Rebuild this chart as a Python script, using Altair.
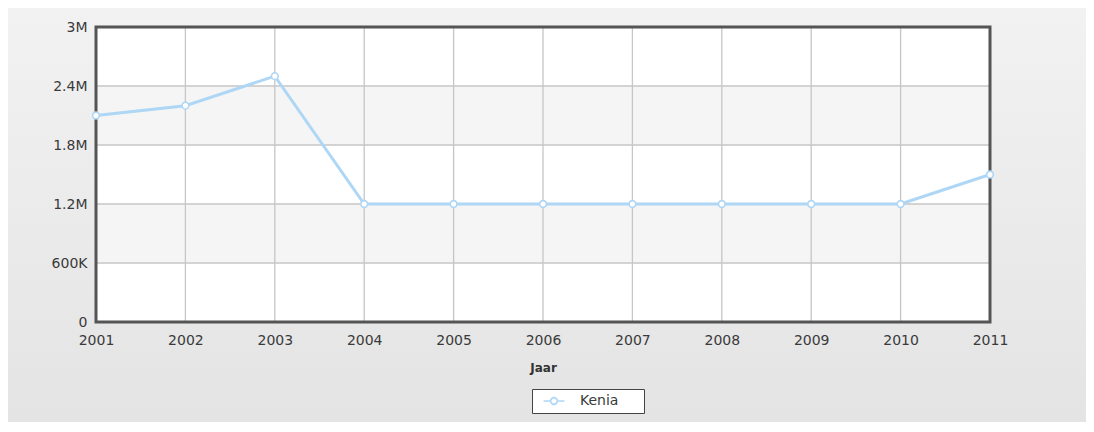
import altair as alt
import pandas as pd

years = [2001, 2002, 2003, 2004, 2005, 2006, 2007, 2008, 2009, 2010, 2011]
values = [2100000, 2200000, 2500000, 1200000, 1200000, 1200000, 1200000, 1200000, 1200000, 1200000, 1500000]
series_name = "Kenia"
y_ticks = [0, 600000, 1200000, 1800000, 2400000, 3000000]
band_lo = [600000, 1800000]
band_hi = [1200000, 2400000]

df = pd.DataFrame({"Jaar": years, "Waarde": values, "Land": [series_name] * len(years)})
bands = pd.DataFrame({"lo": band_lo, "hi": band_hi})
xgrid = pd.DataFrame({"Jaar": years})
ygrid = pd.DataFrame({"Waarde": y_ticks})

xscale = alt.Scale(domain=[years[0], years[-1]], nice=False, zero=False)
yscale = alt.Scale(domain=[0, 3000000], nice=False)

FONT = "DejaVu Sans"
W, H = 894, 295

axis_x = alt.Axis(values=years, format="d", grid=False, domain=False, ticks=False, zindex=1,
                  labelFlush=False, labelOverlap=False,
                  labelPadding=11, labelBaseline="top", labelFont=FONT, labelFontSize=14,
                  labelColor="#3a3a3a", title="Jaar", titleFont=FONT, titleFontSize=12,
                  titleFontWeight="bold", titleColor="#333", titlePadding=15)
axis_y = alt.Axis(values=y_ticks, grid=False, domain=False, ticks=False, zindex=1,
                  labelFlush=False, labelOverlap=False,
                  labelPadding=9, labelFont=FONT, labelFontSize=14, labelColor="#3a3a3a",
                  labelExpr="datum.value == 0 ? '0' : (datum.value >= 1000000 ? format(datum.value / 1000000, '.2~f') + 'M' : format(datum.value / 1000, 'd') + 'K')",
                  title=None)

one = pd.DataFrame({"a": [0]})

bg = alt.Chart(one).mark_rect(
    fill=alt.Gradient(gradient="linear", stops=[alt.GradientStop(color="#f2f2f2", offset=0),
                                                alt.GradientStop(color="#e3e3e3", offset=1)],
                      x1=0, x2=0, y1=0, y2=1),
    stroke="#c8c8c8", strokeWidth=1, clip=False,
).encode(x=alt.value(-89), x2=alt.value(1010), y=alt.value(-20), y2=alt.value(420))

plotbg = alt.Chart(one).mark_rect(fill="white").encode(
    x=alt.value(0), x2=alt.value(W), y=alt.value(0), y2=alt.value(H))

band_layer = alt.Chart(bands).mark_rect(fill="#f5f5f5").encode(
    y=alt.Y("lo:Q", scale=yscale, axis=axis_y), y2="hi:Q", x=alt.value(0), x2=alt.value(W))

vgrid = alt.Chart(xgrid).mark_rule(color="#c6c6c6", strokeWidth=1.3).encode(
    x=alt.X("Jaar:Q", scale=xscale, axis=axis_x))
hgrid = alt.Chart(ygrid).mark_rule(color="#c6c6c6", strokeWidth=1.3).encode(
    y=alt.Y("Waarde:Q", scale=yscale, axis=axis_y))

border = alt.Chart(one).mark_rect(fillOpacity=0, stroke="#555555", strokeWidth=3).encode(
    x=alt.value(0), x2=alt.value(W), y=alt.value(0), y2=alt.value(H))

line = alt.Chart(df).mark_line(strokeWidth=3, color="#aed6f5").encode(
    x=alt.X("Jaar:Q", scale=xscale, axis=axis_x),
    y=alt.Y("Waarde:Q", scale=yscale, axis=axis_y),
)

legend_path = "M-1.7,0 L-0.55,0 M0.55,0 L1.7,0 M-0.55,0 A0.55,0.55 0 1,0 0.55,0 A0.55,0.55 0 1,0 -0.55,0"

pts = alt.Chart(df).mark_point(filled=True, fill="white", size=45, strokeWidth=1.6, opacity=1).encode(
    x=alt.X("Jaar:Q", scale=xscale, axis=axis_x),
    y=alt.Y("Waarde:Q", scale=yscale, axis=axis_y),
    stroke=alt.Stroke("Land:N", scale=alt.Scale(domain=[series_name], range=["#aed6f5"]),
                      legend=alt.Legend(title=None, orient="none", legendX=436, legendY=362,
                                        symbolType=legend_path, symbolSize=150, symbolStrokeWidth=1.6,
                                        symbolFillColor="white", strokeColor="#444", fillColor="white",
                                        padding=5, labelFont=FONT, labelFontSize=14, labelColor="#3a3a3a",
                                        labelOffset=19, symbolOffset=10,
                                        labelExpr="datum.label + '\u2800\u2800'")),
)

chart = alt.layer(bg, plotbg, band_layer, vgrid, hgrid, border, line, pts).properties(
    width=W, height=H,
    autosize=alt.AutoSizeParams(type="none"),
    padding={"left": 88, "top": 19, "right": 96, "bottom": 100},
).configure_view(stroke=None).configure(background="#ffffff")

chart.save("out.html", embed_options={"renderer": "svg", "actions": False})
